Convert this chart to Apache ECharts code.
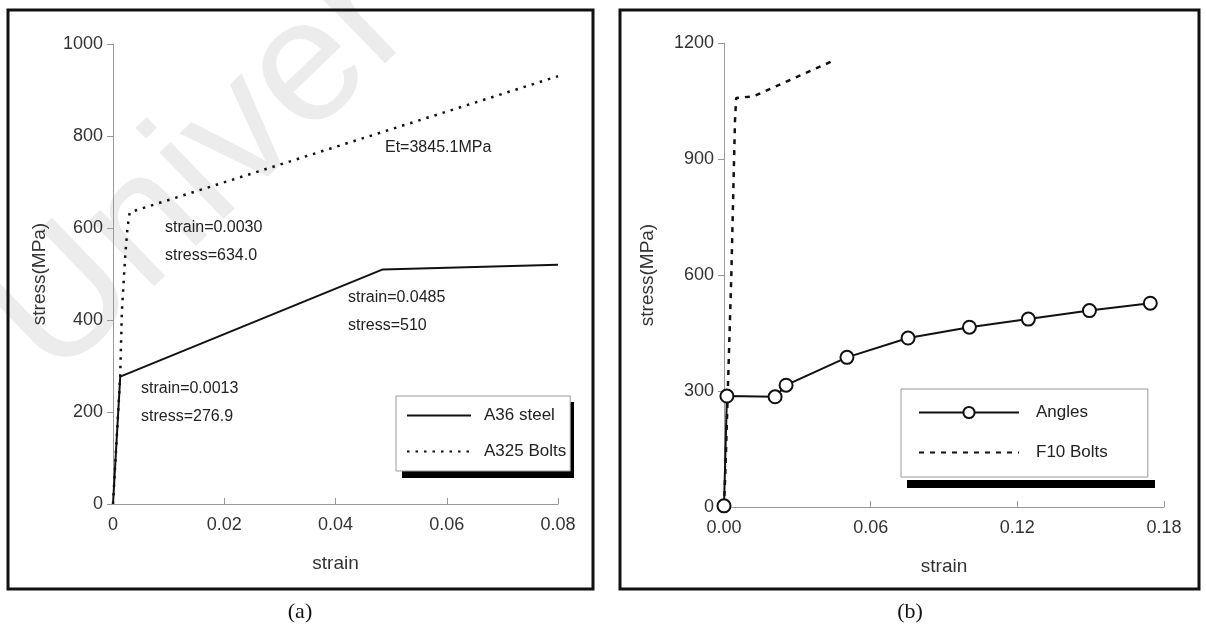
<!DOCTYPE html>
<html>
<head>
<meta charset="utf-8">
<style>
html, body { margin: 0; padding: 0; background: #fff; }
#chart { width: 1206px; height: 628px; }
</style>
<script src="https://cdn.jsdelivr.net/npm/echarts@6/dist/echarts.min.js"></script>
</head>
<body>
<div id="chart"></div>
<script>
// (a) A36 steel / A325 bolts
const a36Strain = [0, 0.0013, 0.0485, 0.08];
const a36Stress = [0, 276.9, 510, 520];
const a325Strain = [0, 0.0013, 0.0016, 0.0022, 0.0026, 0.003, 0.08];
const a325Stress = [0, 280, 420, 540, 600, 634, 930];

// (b) Angles / F10 bolts
const angleStrain = [0, 0.0012, 0.0209, 0.0254, 0.0503, 0.0753, 0.1004, 0.1245, 0.1495, 0.1744];
const angleStress = [3, 287, 285, 315, 387, 437, 465, 486, 508, 527];
const f10Strain = [0, 0.0006, 0.003, 0.0045, 0.005, 0.012, 0.0436];
const f10Stress = [0, 100, 600, 1000, 1058, 1062, 1151];

// 轴刻度
const axisA = { xMax: 0.08, xStep: 0.02, yMax: 1000, yStep: 200 };
const axisB = { xMax: 0.18, xStep: 0.06, yMax: 1200, yStep: 300 };

const FONT = '"Liberation Sans", Arial, sans-serif';

function zip(xs, ys) {
    return xs.map((x, i) => [x, ys[i]]);
}

function makeX(idx, ax, fmt) {
    return {
        gridIndex: idx, type: 'value', min: 0, max: ax.xMax, interval: ax.xStep,
        name: 'strain', nameLocation: 'middle', nameGap: 50,
        nameTextStyle: { fontFamily: FONT, fontSize: 19, color: '#333' },
        axisLine: { lineStyle: { color: '#999', width: 1 } },
        axisTick: { inside: true, length: 6, lineStyle: { color: '#999' } },
        axisLabel: { fontFamily: FONT, fontSize: 18, color: '#333', margin: 12, formatter: fmt },
        splitLine: { show: false }
    };
}

function makeY(idx, ax, gap) {
    return {
        gridIndex: idx, type: 'value', min: 0, max: ax.yMax, interval: ax.yStep,
        name: 'stress(MPa)', nameLocation: 'middle', nameGap: gap,
        nameTextStyle: { fontFamily: FONT, fontSize: 19, color: '#333' },
        axisLine: { show: true, lineStyle: { color: '#999', width: 1 } },
        axisTick: { show: true, length: 6, lineStyle: { color: '#999' } },
        axisLabel: { fontFamily: FONT, fontSize: 18, color: '#333', margin: 10, formatter: v => String(v) },
        splitLine: { show: false }
    };
}

function note(text, x, y) {
    return {
        type: 'text', x: x, y: y, z: 10,
        style: { text: text, font: '16px ' + FONT, fill: '#222', textVerticalAlign: 'middle' }
    };
}

// 没有标记点的系列，图例里只画线
function lineOnly(name) {
    return { name: name, itemStyle: { opacity: 0 } };
}

const legendText = { fontFamily: FONT, fontSize: 17, color: '#222' };

const chart = echarts.init(document.getElementById('chart'));

chart.setOption({
    animation: false,
    backgroundColor: '#fff',
    grid: [
        { left: 113, top: 44, width: 445, height: 460 },
        { left: 724, top: 43, width: 440, height: 464 }
    ],
    xAxis: [
        makeX(0, axisA),
        makeX(1, axisB, v => v.toFixed(2))
    ],
    yAxis: [
        makeY(0, axisA, 64),
        makeY(1, axisB, 67)
    ],
    legend: [
        {
            orient: 'vertical', left: 396, top: 396,
            data: [lineOnly('A36 steel'), lineOnly('A325 Bolts')],
            itemWidth: 64, itemHeight: 14, itemGap: 19,
            padding: [11, 4, 11, 10],
            backgroundColor: '#fff', borderColor: '#999', borderWidth: 1,
            textStyle: Object.assign({ padding: [0, 0, 0, 8] }, legendText)
        },
        {
            orient: 'vertical', left: 901, top: 389,
            data: ['Angles', lineOnly('F10 Bolts')],
            itemWidth: 100, itemHeight: 14, itemGap: 23,
            padding: [15, 40, 16, 17],
            backgroundColor: '#fff', borderColor: '#999', borderWidth: 1,
            textStyle: Object.assign({ padding: [0, 0, 0, 12] }, legendText)
        }
    ],
    series: [
        {
            name: 'A36 steel', type: 'line', xAxisIndex: 0, yAxisIndex: 0,
            data: zip(a36Strain, a36Stress), symbol: 'none',
            lineStyle: { color: '#111', width: 2 }, itemStyle: { color: '#111' }
        },
        {
            name: 'A325 Bolts', type: 'line', xAxisIndex: 0, yAxisIndex: 0,
            data: zip(a325Strain, a325Stress), symbol: 'none',
            lineStyle: { color: '#111', width: 2.5, type: [2.5, 6] }, itemStyle: { color: '#111' }
        },
        {
            name: 'Angles', type: 'line', xAxisIndex: 1, yAxisIndex: 1,
            data: zip(angleStrain, angleStress), symbol: 'emptyCircle', symbolSize: 13,
            lineStyle: { color: '#111', width: 2 }, itemStyle: { color: '#111', borderWidth: 2 }
        },
        {
            name: 'F10 Bolts', type: 'line', xAxisIndex: 1, yAxisIndex: 1,
            data: zip(f10Strain, f10Stress), symbol: 'none',
            lineStyle: { color: '#111', width: 2.5, type: [5, 6] }, itemStyle: { color: '#111' }
        }
    ],
    graphic: [
        // 水印
        {
            type: 'text', x: -40, y: 285, z: -10, rotation: 44 * Math.PI / 180,
            style: { text: 'Univer', font: '175px ' + FONT, fill: '#ececec' }
        },
        // 外框
        {
            type: 'rect', z: 10, shape: { x: 8, y: 10, width: 585, height: 579 },
            style: { fill: 'none', stroke: '#111', lineWidth: 3 }
        },
        {
            type: 'rect', z: 10, shape: { x: 620, y: 10, width: 579, height: 579 },
            style: { fill: 'none', stroke: '#111', lineWidth: 3 }
        },
        // 图例阴影
        {
            type: 'rect', z: 1, shape: { x: 402, y: 402, width: 172, height: 76 },
            style: { fill: '#000' }
        },
        {
            type: 'rect', z: 1, shape: { x: 907, y: 480, width: 248, height: 8 },
            style: { fill: '#000' }
        },
        note('Et=3845.1MPa', 385, 148),
        note('strain=0.0030', 165, 228),
        note('stress=634.0', 165, 256),
        note('strain=0.0485', 348, 298),
        note('stress=510', 348, 326),
        note('strain=0.0013', 141, 389),
        note('stress=276.9', 141, 417),
        {
            type: 'text', x: 300, y: 612, z: 10,
            style: { text: '(a)', font: '22px "Liberation Serif", "Times New Roman", serif', fill: '#111', textAlign: 'center', textVerticalAlign: 'middle' }
        },
        {
            type: 'text', x: 910, y: 612, z: 10,
            style: { text: '(b)', font: '22px "Liberation Serif", "Times New Roman", serif', fill: '#111', textAlign: 'center', textVerticalAlign: 'middle' }
        }
    ]
});
</script>
</body>
</html>
